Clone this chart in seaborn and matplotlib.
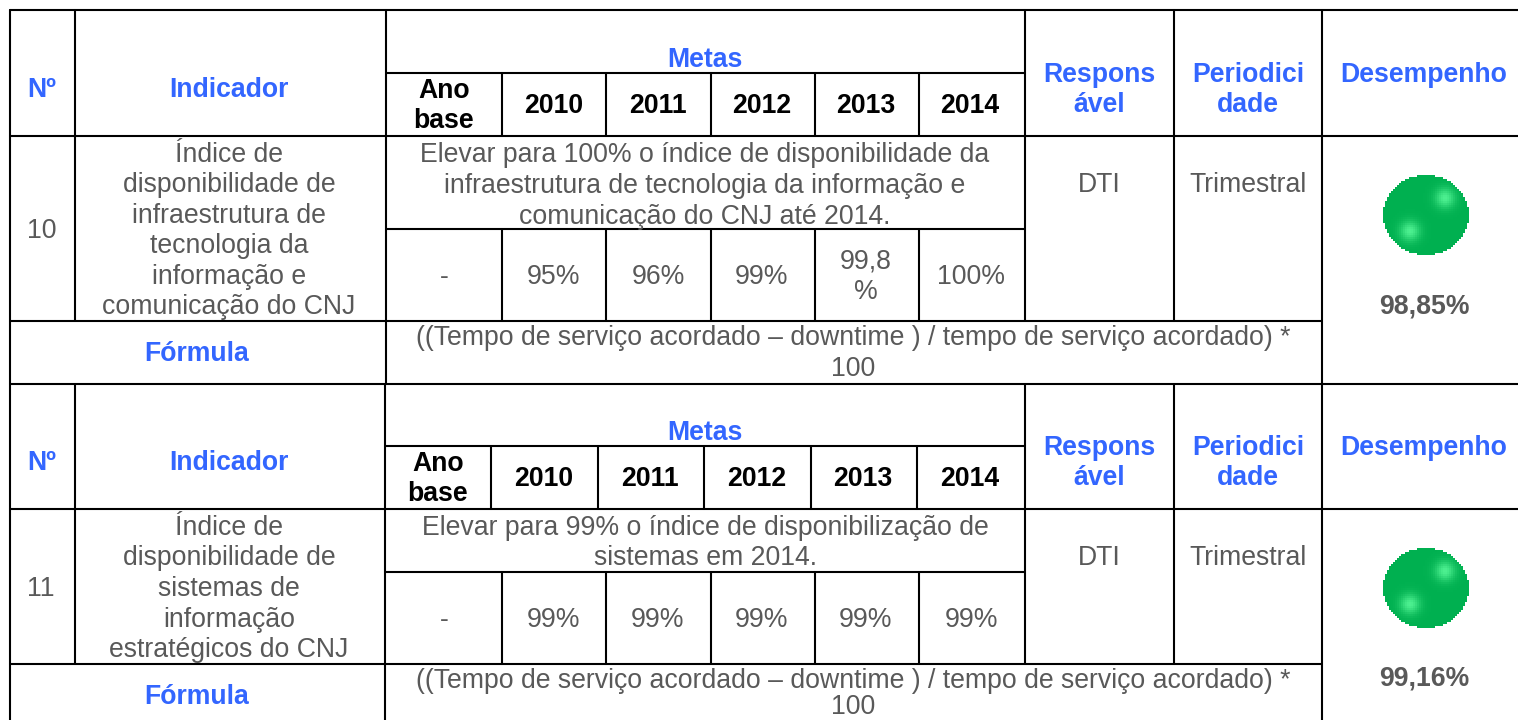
import numpy as np
import pandas as pd
import matplotlib
matplotlib.use('Agg')
import matplotlib.pyplot as plt
from matplotlib.colors import LinearSegmentedColormap
import seaborn as sns

anos = ['2010', '2011', '2012', '2013', '2014']
metas_10 = ['95%', '96%', '99%', '99,8\n%', '100%']
metas_11 = ['99%', '99%', '99%', '99%', '99%']
numeros = ['10', '11']
indicadores = [
    'Índice de\ndisponibilidade de\ninfraestrutura de\ntecnologia da\ninformação e\ncomunicação do CNJ',
    'Índice de\ndisponibilidade de\nsistemas de\ninformação\nestratégicos do CNJ',
]
objetivos = [
    'Elevar para 100% o índice de disponibilidade da\ninfraestrutura de tecnologia da informação e\ncomunicação do CNJ até 2014.',
    'Elevar para 99% o índice de disponibilização de\nsistemas em 2014.',
]
formula = ['((Tempo de serviço acordado – downtime ) / tempo de serviço acordado) *', '100']
desempenho = ['98,85%', '99,16%']

sns.set_theme(style='white')
plt.rcParams['font.family'] = ['Liberation Sans', 'DejaVu Sans']

AZUL = '#3366FF'
CINZA = '#595959'
VERDE = '#00B050'
W, H = 1518, 720

fig = plt.figure(figsize=(W / 100, H / 100), dpi=100, facecolor='white')
ax = fig.add_axes([0, 0, 1, 1])

# linhas da tabela: (x0, y0, x1, y1) em pixels
segs = [
    (10, 10, 1518, 10), (10, 136, 1518, 136), (386, 73, 1025, 73), (386, 229, 1025, 229),
    (10, 321, 1322, 321), (10, 384, 1518, 384), (385, 446, 1025, 446), (10, 509, 1518, 509),
    (385, 572, 1025, 572), (10, 664, 1322, 664),
    (10, 10, 10, 720), (75, 10, 75, 321), (75, 384, 75, 664), (386, 10, 386, 384), (385, 384, 385, 720),
    (1025, 10, 1025, 321), (1025, 384, 1025, 664), (1174, 10, 1174, 321), (1174, 384, 1174, 664),
    (1322, 10, 1322, 720),
]
for x in [502, 606, 711, 815, 919]:
    segs.append((x, 73, x, 136))
    segs.append((x, 229, x, 321))
    segs.append((x, 572, x, 664))
for x in [491, 598, 704, 811, 917]:
    segs.append((x, 446, x, 509))

rows = []
for i, (x0, y0, x1, y1) in enumerate(segs):
    rows.append({'seg': i, 'x': x0, 'y': y0})
    rows.append({'seg': i, 'x': x1, 'y': y1})
df = pd.DataFrame(rows)
sns.lineplot(data=df, x='x', y='y', units='seg', estimator=None, sort=False,
             color='black', linewidth=1.5, legend=False, ax=ax)
ax.set_xlim(0, W)
ax.set_ylim(H, 0)
ax.axis('off')


def txt(x, y, s, color=CINZA, bold=False):
    ax.text(x, y + 2, s, color=color, fontsize=19.2, ha='center', va='center', linespacing=1.23,
            fontweight='bold' if bold else 'normal')


def bloco(dh, dc, x_ano, xs_anos, metas, numero, indicador, y_ind, objetivo, y_obj, y_resp, x_num, x_ind):
    txt(705, 58 + dh, 'Metas', AZUL, True)
    txt(42, 88 + dh, 'Nº', AZUL, True)
    txt(x_ind, 88 + dh, 'Indicador', AZUL, True)
    txt(x_ano, 104 + dh, 'Ano\nbase', 'black', True)
    for x, a in zip(xs_anos, anos):
        txt(x, 104 + dh, a, 'black', True)
    txt(1099, 88 + dh, 'Respons\nável', AZUL, True)
    txt(1248, 88 + dh, 'Periodici\ndade', AZUL, True)
    txt(1424, 73 + dh, 'Desempenho', AZUL, True)
    txt(x_num, y_ind, numero)
    txt(x_ind, y_ind, indicador)
    txt(705, y_obj, objetivo)
    txt(444, 275 + dc, '-')
    for x, m in zip([554, 658, 762, 866, 971], metas):
        txt(x, 275 + dc, m)
    txt(1099, y_resp, 'DTI')
    txt(1248, y_resp, 'Trimestral')


bloco(0, 0, 444, [554, 658, 762, 866, 970], metas_10, numeros[0], indicadores[0], 229, objetivos[0], 184, 183, 42, 229)
bloco(373, 343, 438, [544, 650, 757, 863, 970], metas_11, numeros[1], indicadores[1], 587, objetivos[1], 541, 556, 41, 229)

txt(197, 352, 'Fórmula', AZUL, True)
txt(197, 695, 'Fórmula', AZUL, True)
txt(853, 336, formula[0])
txt(853, 367, formula[1])
txt(853, 679, formula[0])
txt(853, 705, formula[1])  # um pouco acima, senao corta na borda
txt(1424, 305, desempenho[0], CINZA, True)
txt(1424, 677, desempenho[1], CINZA, True)

# bolinha verde com dois brilhos, pixelada como a figura original
cmap = LinearSegmentedColormap.from_list('bola', [VERDE, '#4DF090'])
nx, ny = 43, 40
gx, gy = np.meshgrid(np.arange(nx) + 0.5, np.arange(ny) + 0.5)
brilho = np.exp(-((gx - 31) ** 2 + (gy - 11.5) ** 2) / 24) + np.exp(-((gx - 13.5) ** 2 + (gy - 28) ** 2) / 24)
fora = ((gx - nx / 2) / (nx / 2)) ** 2 + ((gy - ny / 2) / (ny / 2)) ** 2 > 1

for topo in [175, 548]:
    bola = fig.add_axes([1383 / W, 1 - (topo + 80) / H, 86 / W, 80 / H])
    sns.heatmap(brilho, mask=fora, cmap=cmap, vmin=0, vmax=1, cbar=False,
                xticklabels=False, yticklabels=False, ax=bola)
    bola.patch.set_alpha(0)

fig.savefig('out.png', dpi=100)
